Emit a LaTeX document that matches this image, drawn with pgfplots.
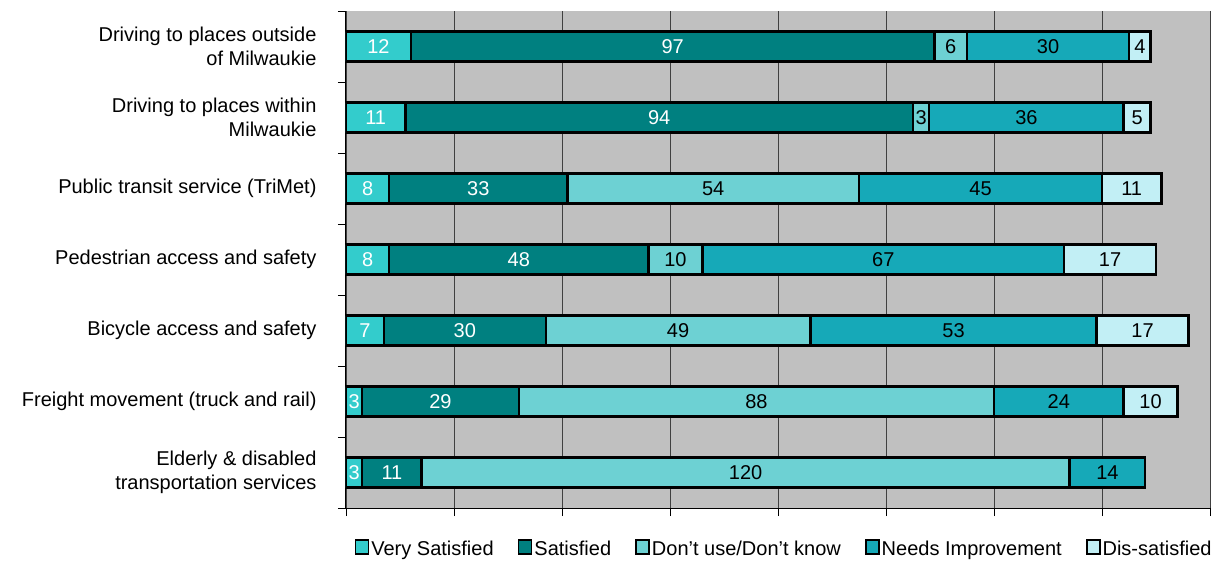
\documentclass[border=0pt]{standalone}
\usepackage{fontspec}
\setmainfont{Liberation Sans}
\usepackage{pgfplots}
\pgfplotsset{compat=1.18}
\usepackage{pgfplotstable}

\definecolor{vsat}{HTML}{33CCCC}
\definecolor{sat}{HTML}{008080}
\definecolor{dunno}{HTML}{6DD1D3}
\definecolor{needs}{HTML}{16A9B8}
\definecolor{dissat}{HTML}{C2EFF5}
\definecolor{plotgray}{HTML}{C0C0C0}

% idx 6 = top bar
\pgfplotstableread{
idx vs s dk ni ds
6 12 97 6 30 4
5 11 94 3 36 5
4 8 33 54 45 11
3 8 48 10 67 17
2 7 30 49 53 17
1 3 29 88 24 10
0 3 11 120 14 0
}\survey

\pgfplotsset{
  frame/.style={at={(0pt,0pt)}, anchor=south west,
    width=864pt, height=497pt, scale only axis,
    xmin=0, xmax=160, ymin=-0.5, ymax=6.5},
  seg/.style={fill=#1, draw=black, line width=2.4pt},
  lbl/.style={draw=none, mark=none, nodes near coords, point meta=explicit,
    nodes near coords={\pgfmathprintnumber[assume math mode=true]{\pgfplotspointmeta}},
    nodes near coords align={center},
    every node near coord/.append style={anchor=center, text=#1, inner sep=0pt,
      font=\fontsize{20pt}{22pt}\selectfont}},
}

\begin{document}
\begin{tikzpicture}
\path[use as bounding box] (-346pt,-57pt) rectangle (871pt,508pt);
\begin{axis}[
  frame,
  xbar stacked, bar width=30pt,
  axis background/.style={fill=plotgray},
  axis x line*=bottom, axis y line*=left,
  axis line style={black, line width=1pt},
  tick align=outside,
  major tick length=8pt, minor tick length=8pt,
  xtick={0,20,...,160}, xticklabels={},
  xmajorgrids, major grid style={black!75, line width=0.9pt},
  ytick={0,...,6},
  major y tick style={draw=none},
  minor ytick={-0.5,0.5,...,6.5},
  tick style={black, line width=0.8pt},
  yticklabels={
    {Elderly \& disabled\\transportation services},
    {Freight movement (truck and rail)},
    {Bicycle access and safety},
    {Pedestrian access and safety},
    {Public transit service (TriMet)},
    {Driving to places within\\Milwaukie},
    {Driving to places outside\\of Milwaukie}},
  yticklabel style={align=right, xshift=-18pt,
    font=\fontsize{20pt}{24pt}\selectfont},
  legend columns=5,
  legend style={at={(0.507,-0.058)}, anchor=north, draw=none, fill=none,
    font=\fontsize{20pt}{22pt}\selectfont,
    /tikz/every even column/.append style={column sep=22pt},
    nodes={inner sep=2pt}},
  legend image code/.code={\draw[#1, draw=black, line width=1.8pt] (0pt,-5pt) rectangle (13pt,9pt);},
]
\addplot[seg=vsat] table[x=vs, y=idx] {\survey};
\addplot[seg=sat] table[x=s, y=idx] {\survey};
\addplot[seg=dunno] table[x=dk, y=idx] {\survey};
\addplot[seg=needs] table[x=ni, y=idx] {\survey};
\addplot[seg=dissat] table[x=ds, y=idx, skip coords between index={6}{7}] {\survey};
\legend{Very Satisfied, Satisfied, Don't use/Don't know, Needs Improvement, Dis-satisfied}
\end{axis}
% segment values, centred in each segment
\begin{axis}[frame, hide axis]
\addplot[lbl=white] table[x expr={\thisrow{vs}/2}, y=idx, meta=vs] {\survey};
\addplot[lbl=white] table[x expr={\thisrow{vs}+\thisrow{s}/2}, y=idx, meta=s] {\survey};
\addplot[lbl=black] table[x expr={\thisrow{vs}+\thisrow{s}+\thisrow{dk}/2}, y=idx, meta=dk] {\survey};
\addplot[lbl=black] table[x expr={\thisrow{vs}+\thisrow{s}+\thisrow{dk}+\thisrow{ni}/2}, y=idx, meta=ni] {\survey};
\addplot[lbl=black] table[x expr={\thisrow{vs}+\thisrow{s}+\thisrow{dk}+\thisrow{ni}+\thisrow{ds}/2}, y=idx, meta=ds, skip coords between index={6}{7}] {\survey};
\end{axis}
\end{tikzpicture}
\end{document}
